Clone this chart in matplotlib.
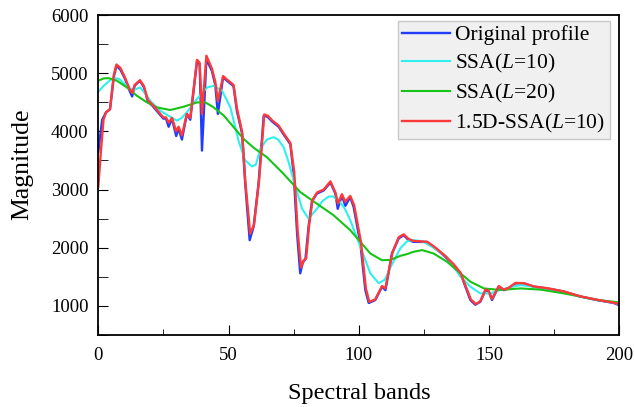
import matplotlib
matplotlib.use("Agg")
import matplotlib.pyplot as plt
from matplotlib.ticker import MultipleLocator

plt.rcParams['font.family'] = ['Liberation Serif', 'DejaVu Serif']
plt.rcParams['mathtext.fontset'] = 'custom'
plt.rcParams['mathtext.it'] = 'Liberation Serif:italic'
plt.rcParams['mathtext.rm'] = 'Liberation Serif'

# values (band, magnitude)
orig_x = [0, 1.5, 3, 4.5, 6, 7, 8.5, 10, 11, 12, 13, 14, 16, 17.5, 19, 21, 22.5, 24, 25, 26,
          27, 28.3, 29.9, 30.8, 32.1, 34, 35.3, 37.9, 38.9, 39.8, 41.5, 43.6, 44.9, 45.9, 47.9,
          49.4, 51.9, 53.2, 55.2, 56.4, 58.1, 59.6, 61.5, 63.5, 65, 66.7, 69.2, 71.1, 73.7, 75,
          76.3, 77.5, 78.5, 79.5, 80.7, 82, 83.9, 86.5, 89.1, 91, 91.9, 93.5, 94.8, 96.7, 98,
          100.6, 102.5, 103.8, 106.3, 108.9, 110.2, 112.7, 115.3, 117.2, 119.1, 121, 123.6,
          126.2, 128.7, 132.5, 136.4, 139, 140.9, 142.8, 144.7, 146.6, 148.6, 149.8, 151.1,
          152.4, 153.7, 155.6, 157.5, 160.1, 163.3, 167.1, 172.2, 178.6, 185, 191.4, 197.8, 200]
orig_y = [3650, 4200, 4330, 4380, 4950, 5130, 5060, 4930, 4820, 4700, 4600, 4790, 4870, 4760,
          4520, 4430, 4350, 4270, 4220, 4220, 4080, 4220, 3920, 4050, 3860, 4300, 4200, 5210,
          5150, 3670, 5240, 5040, 4800, 4300, 4930, 4870, 4780, 4350, 3960, 3100, 2130, 2360,
          3100, 4270, 4250, 4170, 4080, 3950, 3780, 3270, 2250, 1560, 1750, 1800, 2360, 2800,
          2930, 2985, 3120, 2930, 2670, 2900, 2720, 2870, 2700, 2070, 1270, 1050, 1100, 1330,
          1270, 1900, 2160, 2215, 2130, 2100, 2100, 2100, 2015, 1873, 1700, 1560, 1330, 1100,
          1020, 1070, 1270, 1250, 1100, 1220, 1330, 1270, 1300, 1387, 1387, 1330, 1300, 1245,
          1160, 1100, 1050, 1010]

ssa1d_x = [0, 2, 4, 6, 8, 10, 12.3, 14, 16.1, 18, 19.9, 23.8, 27.6, 30.2, 32, 34, 37.9, 41.8,
           44.3, 47.5, 50.7, 53.8, 56.4, 59, 60.5, 62.2, 64.7, 67.3, 69, 71.1, 73, 75, 78.2,
           80.7, 83.9, 86, 88.4, 90, 92.2, 94.5, 96.7, 100.6, 104.4, 107.6, 110, 112.1, 115.9,
           118.5, 121, 124.5, 128.7, 133.8, 139, 142.8, 146.6, 150.5, 154.3, 158, 162, 167,
           172, 178.6, 185, 191.4, 197.8, 200]
ssa1d_y = [4680, 4780, 4860, 4920, 4900, 4820, 4730, 4720, 4755, 4650, 4527, 4356, 4250, 4185,
           4230, 4328, 4560, 4755, 4784, 4700, 4413, 3842, 3500, 3397, 3430, 3700, 3860, 3900,
           3860, 3730, 3480, 3158, 2670, 2500, 2670, 2800, 2880, 2880, 2815, 2680, 2473, 2015,
           1560, 1390, 1450, 1660, 1990, 2110, 2130, 2110, 2000, 1845, 1500, 1330, 1215, 1215,
           1274, 1320, 1358, 1330, 1300, 1245, 1165, 1105, 1055, 1030]

ssa20_x = [0, 2, 4, 7.2, 11, 14.8, 18.7, 22.5, 27.6, 32.7, 37.9, 41.1, 44.3, 48.2, 52, 55.8,
           59.6, 64.7, 71.1, 77.5, 83.9, 90.3, 96.7, 100.6, 104.4, 108.9, 112.1, 115.9, 118.5,
           121, 124.3, 128.7, 133.8, 139, 142.8, 148, 154.3, 162, 169.7, 178.6, 185, 191.4, 200]
ssa20_y = [4870, 4910, 4915, 4870, 4755, 4613, 4498, 4413, 4367, 4424, 4498, 4498, 4413, 4270,
           4070, 3870, 3720, 3557, 3270, 2957, 2757, 2558, 2301, 2100, 1900, 1785, 1790, 1860,
           1890, 1930, 1959, 1900, 1760, 1560, 1416, 1300, 1274, 1300, 1280, 1215, 1160, 1103,
           1060]

ssa15_x = [0, 1, 2, 3, 4.5, 6, 7, 8.5, 10, 11, 12, 13, 14, 16, 17.5, 19, 21, 22.5, 24, 25, 26,
           27, 28.3, 29.9, 30.8, 32.1, 34, 35.3, 37.9, 38.9, 39.8, 41.5, 43.6, 44.9, 45.9, 47.9,
           49.4, 51.9, 53.2, 55.2, 56.4, 58.3, 59.8, 61.7, 63.7, 65, 66.7, 69.2, 71.1, 73.7, 75.2,
           76.5, 77.8, 78.8, 79.8, 80.9, 82.2, 84, 86.5, 89.1, 91, 92, 93.5, 94.8, 96.7, 98.2,
           100.8, 102.7, 104, 106.3, 108.9, 110.2, 112.9, 115.3, 117.2, 119.1, 121, 123.6,
           126.2, 128.7, 132.5, 136.4, 139, 141, 143, 144.9, 146.6, 148.6, 149.8, 151.1, 152.4,
           153.7, 155.6, 157.5, 160.1, 163.3, 167.1, 172.2, 178.6, 185, 191.4, 197.8, 200]
ssa15_y = [3050, 3650, 4200, 4330, 4380, 4980, 5150, 5090, 4950, 4840, 4730, 4660, 4800, 4880,
           4780, 4540, 4450, 4370, 4290, 4240, 4240, 4150, 4230, 4000, 4080, 3930, 4300, 4230,
           5230, 5180, 4300, 5300, 5080, 4850, 4520, 4950, 4890, 4800, 4400, 3990, 3150, 2240,
           2400, 3150, 4290, 4270, 4190, 4100, 3970, 3800, 3300, 2300, 1660, 1780, 1820, 2380,
           2820, 2950, 3000, 3140, 2950, 2760, 2920, 2790, 2890, 2730, 2100, 1300, 1070, 1110,
           1340, 1300, 1920, 2180, 2230, 2150, 2115, 2110, 2100, 2025, 1885, 1715, 1570, 1340,
           1110, 1030, 1080, 1280, 1260, 1120, 1230, 1340, 1280, 1310, 1395, 1390, 1335, 1305,
           1250, 1165, 1105, 1055, 1030]

fig, ax = plt.subplots(figsize=(6.34, 4.07), dpi=100)
fig.subplots_adjust(left=0.155, right=0.977, top=0.963, bottom=0.177)

ax.plot(orig_x, orig_y, color='#1f3cff', lw=1.7, label='Original profile')
ax.plot(ssa1d_x, ssa1d_y, color='#2ff0f0', lw=1.5, label='SSA($\\mathit{L}$=10)')
ax.plot(ssa20_x, ssa20_y, color='#16c416', lw=1.5, label='SSA($\\mathit{L}$=20)')
ax.plot(ssa15_x, ssa15_y, color='#ff3838', lw=1.7, label='1.5D-SSA($\\mathit{L}$=10)')

ax.set_xlim(0, 200)
ax.set_ylim(500, 6000)
ax.xaxis.set_major_locator(MultipleLocator(50))
ax.xaxis.set_minor_locator(MultipleLocator(25))
ax.yaxis.set_minor_locator(MultipleLocator(500))
ax.set_yticks([1000, 2000, 3000, 4000, 5000, 6000])
ax.tick_params(which='both', direction='in', labelsize=13.5)
ax.tick_params(axis='x', which='major', length=7, pad=9)
ax.tick_params(axis='x', which='minor', length=4)
ax.tick_params(axis='y', which='both', length=7, pad=7)
for s in ax.spines.values():
    s.set_linewidth(1.3)

ax.set_xlabel('Spectral bands', fontsize=17.5, labelpad=13)
ax.set_ylabel('Magnitude', fontsize=18.5)
ax.yaxis.set_label_coords(-0.125, 0.535)

leg = ax.legend(loc='upper right', fontsize=15.5, frameon=True, fancybox=False,
                handlelength=2.2, handletextpad=0.25, borderpad=0.2, labelspacing=0.32,
                borderaxespad=0, bbox_to_anchor=(0.981, 0.982))
leg.get_frame().set_facecolor('#f0f0f0')
leg.get_frame().set_edgecolor('#c8c8c8')
leg.get_frame().set_alpha(1)

fig.savefig('out.png', dpi=100)
